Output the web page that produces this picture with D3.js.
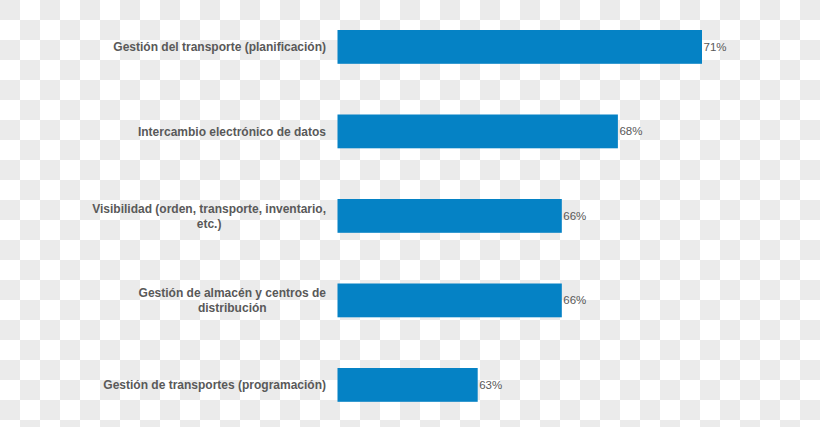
<!DOCTYPE html>
<html>
<head>
<meta charset="utf-8">
<script src="https://cdn.jsdelivr.net/npm/d3@7"></script>
<style>
  body { margin: 0; }
  svg { display: block; }
</style>
</head>
<body>
<script>
// data
var categories = [
    ["Gestión del transporte (planificación)"],
    ["Intercambio electrónico de datos"],
    ["Visibilidad (orden, transporte, inventario,", "etc.)"],
    ["Gestión de almacén y centros de", "distribución"],
    ["Gestión de transportes (programación)"]
];
var values = [71, 68, 66, 66, 63];

var width = 820, height = 427;

var svg = d3.select("body").append("svg")
    .attr("width", width)
    .attr("height", height);

// checkerboard background (transparent image look)
var defs = svg.append("defs");
var pat = defs.append("pattern")
    .attr("id", "checks")
    .attr("width", 40).attr("height", 40)
    .attr("patternUnits", "userSpaceOnUse");
pat.append("rect").attr("width", 40).attr("height", 40).attr("fill", "#ffffff");
pat.append("rect").attr("width", 20).attr("height", 20).attr("fill", "#ebebeb");
pat.append("rect").attr("x", 20).attr("y", 20).attr("width", 20).attr("height", 20).attr("fill", "#ebebeb");
svg.append("rect").attr("width", width).attr("height", height).attr("fill", "url(#checks)");

var x = d3.scaleLinear()
    .domain([58, 71])
    .range([337.5, 702]);

var y = d3.scaleBand()
    .domain(d3.range(categories.length))
    .range([4.65, 427.15])
    .paddingInner(0.6)
    .paddingOuter(0.3);

svg.selectAll(".bar")
    .data(values)
    .enter().append("rect")
    .attr("class", "bar")
    .attr("x", x(58))
    .attr("y", function (d, i) { return y(i); })
    .attr("width", function (d) { return x(d) - x(58); })
    .attr("height", y.bandwidth())
    .attr("fill", "#0582c5");

// value labels
svg.selectAll(".val")
    .data(values)
    .enter().append("text")
    .attr("class", "val")
    .attr("x", function (d) { return x(d) + 1.5; })
    .attr("y", function (d, i) { return y(i) + y.bandwidth() / 2; })
    .attr("dy", "0.35em")
    .attr("font-family", "Liberation Sans, Arial, sans-serif")
    .attr("font-size", "11.5px")
    .attr("fill", "#595959")
    .text(function (d) { return d + "%"; });

// category labels, centred lines, right edge at 326
var labelRight = 326, lineH = 15;
categories.forEach(function (lines, i) {
    var g = svg.append("text")
        .attr("font-family", "Liberation Sans, Arial, sans-serif")
        .attr("font-size", "12px")
        .attr("font-weight", "bold")
        .attr("fill", "#595959")
        .attr("text-anchor", "middle");
    var cy = y(i) + y.bandwidth() / 2;
    var spans = g.selectAll("tspan").data(lines).enter().append("tspan")
        .attr("y", function (d, j) { return cy + (j - (lines.length - 1) / 2) * lineH; })
        .attr("dy", "0.35em")
        .text(function (d) { return d; });
    var maxW = 0;
    spans.each(function () { maxW = Math.max(maxW, this.getComputedTextLength()); });
    spans.attr("x", labelRight - maxW / 2);
});
</script>
</body>
</html>
